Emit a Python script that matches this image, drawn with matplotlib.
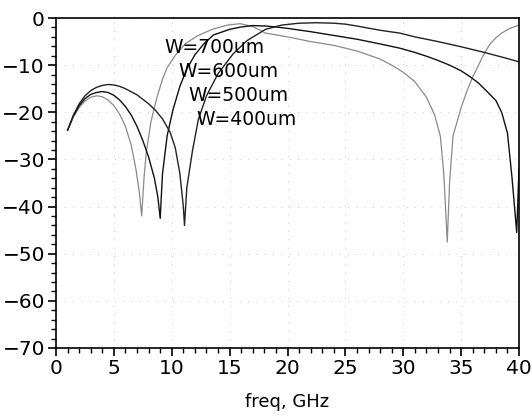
import matplotlib
matplotlib.use("Agg")
import matplotlib.pyplot as plt
from matplotlib.ticker import MultipleLocator

# curve with notches near 7.4 and 33.8 GHz (light trace)
freq_a = [1.0, 1.5, 2.0, 2.5, 3.0, 3.5, 4.0, 4.5, 5.0, 5.5, 6.0, 6.5, 6.9, 7.2, 7.4,
          7.6, 7.8, 8.2, 8.7, 9.2, 9.6, 10.4, 11.2, 12.2, 13.5, 14.8, 15.9, 17.0,
          18.1, 20.0, 22.0, 24.0, 26.0, 28.0, 29.0, 30.0, 31.0, 32.0, 32.7, 33.2,
          33.5, 33.8, 34.0, 34.3, 35.0, 35.5, 36.0, 36.5, 37.0, 37.5, 38.0, 38.5,
          39.2, 40.0]
s11_a = [-23.8, -21.0, -19.0, -17.6, -16.8, -16.5, -16.7, -17.4, -18.6, -20.4, -23.0,
         -27.0, -32.0, -37.0, -42.0, -34.0, -28.5, -22.0, -17.0, -13.0, -10.5, -7.6,
         -5.4, -3.8, -2.4, -1.5, -1.2, -1.8, -3.2, -4.0, -5.0, -5.8, -7.0, -8.7,
         -10.0, -11.5, -13.5, -16.8, -20.5, -25.0, -33.0, -47.5, -35.0, -25.0,
         -19.0, -15.5, -12.5, -10.0, -7.5, -5.5, -4.2, -3.2, -2.2, -1.5]

# curve with notches near 9 and 39.8 GHz
freq_b = [1.0, 1.5, 2.0, 2.5, 3.0, 3.5, 4.0, 4.5, 5.0, 5.5, 6.0, 6.5, 7.0, 7.5, 8.0,
          8.5, 8.8, 9.0, 9.2, 9.6, 10.1, 10.7, 11.3, 12.0, 12.8, 13.6, 15.0, 16.0,
          17.0, 18.1, 19.0, 20.0, 22.0, 24.0, 26.0, 28.0, 29.7, 31.0, 32.0, 33.0,
          34.0, 35.0, 35.8, 36.5, 37.2, 38.0, 38.5, 39.0, 39.4, 39.8, 40.0]
s11_b = [-23.8, -20.8, -18.6, -17.1, -16.2, -15.8, -15.6, -15.8, -16.4, -17.4, -18.8,
         -20.6, -23.0, -26.0, -29.5, -34.0, -38.0, -42.5, -33.0, -25.0, -19.5, -14.5,
         -10.8, -7.8, -5.4, -3.6, -2.4, -1.9, -1.6, -1.7, -1.9, -2.2, -2.9, -3.7,
         -4.5, -5.5, -6.4, -7.3, -8.1, -9.0, -10.0, -11.2, -12.5, -13.8, -15.5,
         -17.5, -20.0, -24.4, -34.0, -45.5, -32.0]

# curve with notch near 11 GHz only
freq_c = [1.0, 1.5, 2.0, 2.5, 3.0, 3.5, 4.0, 4.5, 5.0, 5.5, 6.0, 7.0, 8.0, 8.6, 9.2,
          9.85, 10.3, 10.7, 11.0, 11.1, 11.3, 11.8, 12.3, 13.0, 14.0, 15.3, 16.5,
          18.1, 19.5, 21.0, 22.5, 24.0, 25.0, 26.0, 28.0, 29.7, 31.0, 33.0, 35.0,
          37.0, 39.0, 40.0]
s11_c = [-23.8, -20.6, -18.2, -16.5, -15.4, -14.7, -14.3, -14.1, -14.2, -14.5, -15.0,
         -16.3, -18.2, -19.6, -21.4, -24.2, -27.5, -33.0, -40.0, -44.0, -36.0,
         -28.0, -21.5, -16.5, -11.8, -7.6, -4.8, -2.4, -1.5, -1.1, -1.0, -1.1, -1.3,
         -1.7, -2.6, -3.2, -4.0, -5.0, -6.1, -7.3, -8.6, -9.3]

labels = ["W=700um", "W=600um", "W=500um", "W=400um"]
label_x = [9.4, 10.6, 11.4, 12.1]
label_y = [-6.2, -11.3, -16.4, -21.5]


def main() -> None:
    fig = plt.figure(figsize=(5.32, 4.18), dpi=100)
    ax = fig.add_axes([0.1053, 0.1675, 0.8703, 0.7894])

    ax.plot(freq_a, s11_a, color="#8a8a8a", lw=0.9)
    ax.plot(freq_b, s11_b, color="#111111", lw=1.0)
    ax.plot(freq_c, s11_c, color="#222222", lw=1.0)

    for txt, x, y in zip(labels, label_x, label_y):
        ax.text(x, y, txt, fontsize=13.5, va="center", ha="left")

    ax.set_xlim(0, 40)
    ax.set_ylim(-70, 0)
    ax.xaxis.set_major_locator(MultipleLocator(5))
    ax.xaxis.set_minor_locator(MultipleLocator(1))
    ax.yaxis.set_major_locator(MultipleLocator(10))
    ax.yaxis.set_minor_locator(MultipleLocator(2))
    ax.tick_params(which="major", length=6, width=1.2, labelsize=14.5, direction="out",
                   pad=2)
    ax.tick_params(which="minor", length=3.5, width=1.0, direction="out")
    ax.grid(True, which="major", color="#b5b5b5", lw=0.6, linestyle=(0, (1, 9)))
    for sp in ax.spines.values():
        sp.set_linewidth(1.2)
    ax.set_xlabel("freq, GHz", fontsize=13, labelpad=11)

    fig.savefig("out.png", dpi=100)
    plt.close(fig)


if __name__ == "__main__":
    main()
